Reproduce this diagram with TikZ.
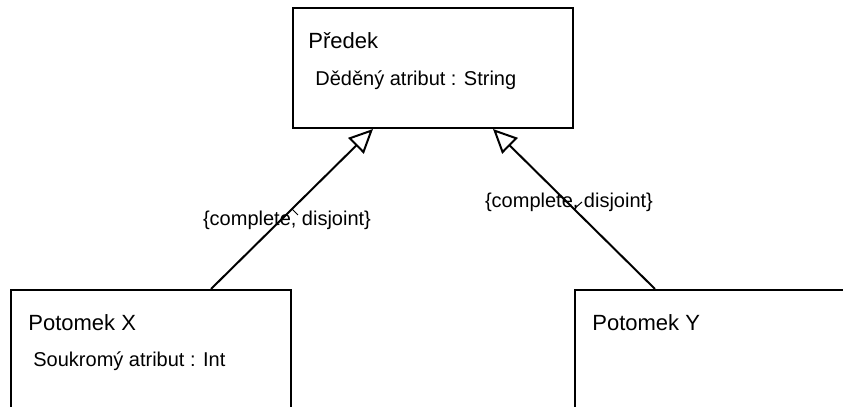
\documentclass[tikz,border=0pt]{standalone}
\usepackage{fontspec}
\setmainfont{Liberation Sans}
\usetikzlibrary{arrows.meta, positioning}

\begin{document}
\begin{tikzpicture}[
        cls/.style={rectangle, draw=black, line width=1pt, fill=white,
                    minimum width=140pt, minimum height=60pt},
        clsname/.style={anchor=base west, inner sep=0pt, font=\fontsize{11}{13}\selectfont},
        attr/.style={anchor=base west, inner sep=0pt, font=\fontsize{10}{12}\selectfont},
        gen/.style={-{Triangle[open, length=12pt, width=11pt, fill=white]}, line width=1pt},
        lab/.style={inner sep=0pt, font=\fontsize{10}{12}\selectfont},
        tick/.style={line width=0.5pt},
        node distance=80pt and 0pt]
      \useasboundingbox (0,0) rectangle (421.5pt,203.5pt);
      \node[cls] (pred) at (216.5pt,169.5pt) {};
      \node[cls, below left=of pred] (potx) {};
      \node[cls, below right=of pred] (poty) {};
      % names and attributes inside the boxes
      \node[clsname] (predname) at ([shift={(8pt,-21pt)}]pred.north west) {Předek};
      \node[attr] (predattr) at ([shift={(11.5pt,-39.5pt)}]pred.north west) {Děděný atribut : String};
      \node[clsname] (potxname) at ([shift={(9pt,-21pt)}]potx.north west) {Potomek X};
      \node[attr] (potxattr) at ([shift={(11.5pt,-39pt)}]potx.north west) {Soukromý atribut : Int};
      \node[clsname] (potyname) at ([shift={(9pt,-21pt)}]poty.north west) {Potomek Y};
      % generalisations
      \draw[gen] ([xshift=30pt]potx.north) -- coordinate (midx) ([xshift=-30pt]pred.south);
      \draw[gen] ([xshift=-30pt]poty.north) -- coordinate (midy) ([xshift=30pt]pred.south);
      \draw[tick] (midx) -- ++(3pt,-3pt);
      \draw[tick] (midy) -- ++(4pt,3.5pt);
      \node[lab] (conx) at ([shift={(-2.5pt,-5.75pt)}]midx) {\{complete, disjoint\}};
      \node[lab] (cony) at ([shift={(-2.5pt,3.25pt)}]midy) {\{complete, disjoint\}};
    \end{tikzpicture}
\end{document}
